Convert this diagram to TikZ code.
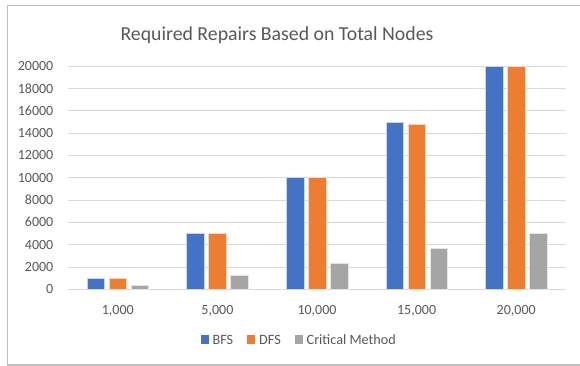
\documentclass[tikz,border=0pt]{standalone}
\usepackage{fontspec}
\setmainfont{Carlito}
\definecolor{bfsblue}{HTML}{4472C4}
\definecolor{dfsorange}{HTML}{ED7D31}
\definecolor{critgray}{HTML}{A5A5A5}
\definecolor{gridgray}{HTML}{D9D9D9}
\definecolor{labelgray}{HTML}{595959}
\definecolor{framegray}{HTML}{BFBFBF}
\tikzset{
  gridline/.style={draw=gridgray, line width=0.9pt},
  bar/.style={line width=0.5pt, draw=white!70!#1, fill=#1},
  ticklabel/.style={anchor=east, text=labelgray, font=\fontsize{14}{16}\selectfont, inner sep=0pt},
  catlabel/.style={anchor=base, text=labelgray, font=\fontsize{14}{16}\selectfont, inner sep=0pt},
  legendtext/.style={anchor=base west, text=labelgray, font=\fontsize{14.2}{16}\selectfont, inner sep=0pt},
  legendkey/.style={fill=#1, draw=none, minimum size=8.5pt, inner sep=0pt},
}
\begin{document}
\begin{tikzpicture}[x=1pt, y=-1pt]
  \useasboundingbox (0,0) rectangle (580,366);
  \fill[white] (0,0) rectangle (580,366);
  % chart frame (open on the right)
  \draw[draw=framegray, line width=1.5pt] (581,5.5) -- (7.5,5.5) -- (7.5,365.2) -- (581,365.2);

  % title
  \node[anchor=base, text=labelgray, font=\fontsize{19.8}{24}\selectfont, inner sep=0pt]
    (title) at (277,41) {Required Repairs Based on Total Nodes};

  % value axis: gridlines every 2000, 0 at y=289.3, 20000 at y=66
  \foreach \v [count=\i from 0] in {0,2000,4000,6000,8000,10000,12000,14000,16000,18000,20000} {
    \pgfmathsetmacro{\yy}{289.3-\i*22.33}
    \draw[gridline] (68,\yy) -- (566,\yy);
    \node[ticklabel] (tick\i) at (53.5,\yy) {\v};
  }

  % bars (values in thousands): BFS, DFS, Critical Method per group
  \foreach \lab/\b/\d/\c [count=\g from 0] in
      {1{,}000/1/1/0.32,
       5{,}000/5/5/1.25,
       10{,}000/10/10/2.34,
       15{,}000/15/14.75/3.7,
       20{,}000/20/20/5.03} {
    \pgfmathsetmacro{\cx}{117.8+\g*99.6}
    \pgfmathsetmacro{\hb}{289.3-\b*11.165}
    \pgfmathsetmacro{\hd}{289.3-\d*11.165}
    \pgfmathsetmacro{\hc}{289.3-\c*11.165}
    \draw[bar=bfsblue]   (\cx-30.7,289.3) rectangle (\cx-13.2,\hb);
    \draw[bar=dfsorange] (\cx-8.7,289.3)  rectangle (\cx+8.8,\hd);
    \draw[bar=critgray]  (\cx+13.3,289.3) rectangle (\cx+30.8,\hc);
    \node[catlabel] (cat\g) at (\cx,314) {\lab};
  }

  % legend
  \node[legendkey=bfsblue]   (kbfs)  at (205,339.5) {};
  \node[legendtext] (lbfs) at (212.5,344) {BFS};
  \node[legendkey=dfsorange] (kdfs)  at (251,339.5) {};
  \node[legendtext] (ldfs) at (259,344) {DFS};
  \node[legendkey=critgray]  (kcrit) at (299,339.5) {};
  \node[legendtext] (lcrit) at (306.5,344) {Critical Method};
\end{tikzpicture}
\end{document}
